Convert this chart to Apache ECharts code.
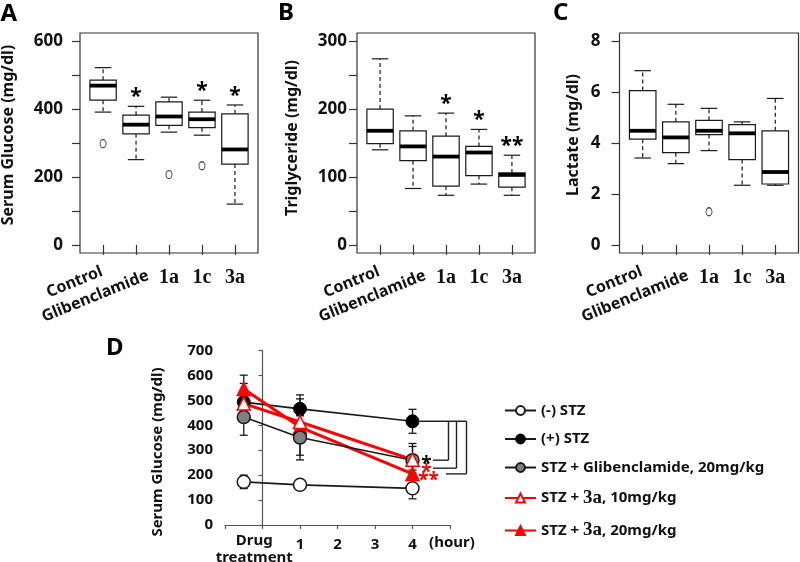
<!DOCTYPE html>
<html><head><meta charset="utf-8">
<script src="https://cdn.jsdelivr.net/npm/echarts@6/dist/echarts.min.js"></script>
<style>html,body{margin:0;padding:0;background:#fff}#c{width:800px;height:562px}</style>
</head><body><div id="c"></div>
<script>
// ---------- DATA ----------
const boxCategories = ['Control', 'Glibenclamide', '1a', '1c', '3a'];
// each box: [lower whisker, Q1, median, Q3, upper whisker]
const glucoseBox = [[391, 426, 469, 485, 522], [251, 327, 354, 382, 408], [332, 352, 378, 421, 435], [323, 345, 370, 391, 426], [120, 238, 281, 386, 412]];
const glucoseOutliers = [['Control', 298], ['1a', 207], ['1c', 233]];
const glucoseStars = ['', '*', '', '*', '*'];
const glucoseTicks = [0, 100, 200, 300, 400, 500, 600];
const glucoseTickLabels = [0, 200, 400, 600];

const tgBox = [[140, 149, 168, 200, 274], [83, 124, 145, 168, 190], [73, 86.5, 130, 160, 194], [89.5, 102, 136, 145, 170], [73, 85, 103, 106, 132]];
const tgOutliers = [];
const tgStars = ['', '', '*', '*', '**'];
const tgTicks = [0, 50, 100, 150, 200, 250, 300];
const tgTickLabels = [0, 100, 200, 300];

const lacBox = [[3.41, 4.15, 4.48, 6.06, 6.84], [3.19, 3.62, 4.22, 4.83, 5.52], [3.70, 4.33, 4.48, 4.89, 5.36], [2.34, 3.35, 4.38, 4.72, 4.83], [2.34, 2.39, 2.86, 4.48, 5.75]];
const lacOutliers = [['1a', 1.30]];
const lacStars = ['', '', '', '', ''];
const lacTicks = [0, 2, 4, 6, 8];
const lacTickLabels = [0, 2, 4, 6, 8];

const timeX = [-0.5, 1, 4];
const timeTickLabelValues = [1, 2, 3, 4];
const drugLabel = 'Drug\ntreatment';
const seriesNames = ['(-) STZ', '(+) STZ', 'STZ + Glibenclamide, 20mg/kg', 'STZ + 3a, 10mg/kg', 'STZ + 3a, 20mg/kg'];
const negSTZ = [173, 161, 147];      const negSTZErr = [27, 10, 42];
const posSTZ = [493, 466, 416];      const posSTZErr = [75, 56, 48];
const glib = [433, 351, 260];        const glibErr = [73, 90, 67];
const stz3a10 = [487, 413, 262];     const stz3a10Err = [25, 25, 53];
const stz3a20 = [546, 393, 205];     const stz3a20Err = [55, 113, 15];

// ---------- STYLE ----------
const SANS = '"Noto Sans", "DejaVu Sans", sans-serif';
const SERIF = '"Liberation Serif", serif';
const INK = '#1a1a1a';
const RED = '#ff0000';

function padRange(lo, hi) { const p = (hi - lo) * 0.04; return [lo - p, hi + p]; }

const panels = [
  { box: glucoseBox, out: glucoseOutliers, stars: glucoseStars, range: [0, 600], ticks: glucoseTicks, labels: glucoseTickLabels, left: 80, width: 178, margin: 17 },
  { box: tgBox, out: tgOutliers, stars: tgStars, range: [0, 300], ticks: tgTicks, labels: tgTickLabels, left: 357, width: 178, margin: 10 },
  { box: lacBox, out: lacOutliers, stars: lacStars, range: [0, 8], ticks: lacTicks, labels: lacTickLabels, left: 619.5, width: 179, margin: 19 }
];

function makeBoxRender(stars) {
  return function (params, api) {
    const x = api.value(0);
    const v = [1, 2, 3, 4, 5].map(k => api.value(k));
    const p = v.map(val => api.coord([x, val]));
    const cx = p[0][0];
    const bw = api.size([0.8, 0])[0];
    const cw = api.size([0.5, 0])[0];
    const dashed = { stroke: INK, lineWidth: 1.2, lineDash: [4, 3] };
    const solid = { stroke: INK, lineWidth: 1.2 };
    const children = [
      { type: 'line', shape: { x1: cx, y1: p[1][1], x2: cx, y2: p[0][1] }, style: dashed },
      { type: 'line', shape: { x1: cx, y1: p[3][1], x2: cx, y2: p[4][1] }, style: dashed },
      { type: 'line', shape: { x1: cx - cw / 2, y1: p[0][1], x2: cx + cw / 2, y2: p[0][1] }, style: solid },
      { type: 'line', shape: { x1: cx - cw / 2, y1: p[4][1], x2: cx + cw / 2, y2: p[4][1] }, style: solid },
      { type: 'rect', shape: { x: cx - bw / 2, y: p[3][1], width: bw, height: p[1][1] - p[3][1] }, style: { fill: '#fff', stroke: INK, lineWidth: 1.2 } },
      { type: 'line', shape: { x1: cx - bw / 2, y1: p[2][1], x2: cx + bw / 2, y2: p[2][1] }, style: { stroke: '#000', lineWidth: 3.8 } }
    ];
    const s = stars[params.dataIndex];
    if (s) {
      children.push({ type: 'text', x: cx, y: p[4][1] - 9, style: { text: s, font: 'bold 21px ' + SANS, fill: '#000', align: 'center', verticalAlign: 'middle' } });
    }
    return { type: 'group', children };
  };
}

function errRender(params, api) {
  const x = api.value(0), m = api.value(1), e = api.value(2);
  const top = api.coord([x, m + e]), bot = api.coord([x, m - e]);
  const cx = top[0], hw = 4;
  const st = { stroke: INK, lineWidth: 1.3 };
  return {
    type: 'group', children: [
      { type: 'line', shape: { x1: cx, y1: top[1], x2: cx, y2: bot[1] }, style: st },
      { type: 'line', shape: { x1: cx - hw, y1: top[1], x2: cx + hw, y2: top[1] }, style: st },
      { type: 'line', shape: { x1: cx - hw, y1: bot[1], x2: cx + hw, y2: bot[1] }, style: st }
    ]
  };
}

const grids = [], xAxes = [], yAxes = [], series = [];
panels.forEach((p, i) => {
  grids.push({ left: p.left, top: 33, width: p.width, height: 220, show: true, borderColor: '#333', borderWidth: 1.2 });
  xAxes.push({
    type: 'value', gridIndex: i, min: 0.3, max: 5.7,
    splitLine: { show: false }, axisLine: { show: false },
    axisTick: { show: true, customValues: [1, 2, 3, 4, 5], length: 10, lineStyle: { color: '#333', width: 1.2 } },
    axisLabel: { customValues: [3, 4, 5], formatter: v => boxCategories[v - 1], fontFamily: SERIF, fontWeight: 'bold', fontSize: 20, color: '#111', margin: 15 }
  });
  const r = padRange(p.range[0], p.range[1]);
  yAxes.push({
    type: 'value', gridIndex: i, min: r[0], max: r[1],
    splitLine: { show: false }, axisLine: { show: false },
    axisTick: { show: true, customValues: p.ticks, length: 8, lineStyle: { color: '#333', width: 1.2 } },
    axisLabel: { customValues: p.labels, fontFamily: SANS, fontWeight: 'bold', fontSize: 17, color: '#111', margin: p.margin }
  });
  series.push({
    type: 'custom', xAxisIndex: i, yAxisIndex: i, silent: true,
    renderItem: makeBoxRender(p.stars),
    encode: { x: 0, y: [1, 2, 3, 4, 5] },
    data: p.box.map((b, k) => [k + 1].concat(b))
  });
  series.push({
    type: 'scatter', xAxisIndex: i, yAxisIndex: i, silent: true,
    symbol: 'circle', symbolSize: [6, 8],
    itemStyle: { color: '#fff', borderColor: INK, borderWidth: 1.1 },
    data: p.out.map(o => [boxCategories.indexOf(o[0]) + 1, o[1]])
  });
});

// Panel D
grids.push({ left: 225, top: 350.5, width: 225, height: 174.5 });
xAxes.push({
  type: 'value', gridIndex: 3, min: -1, max: 5, interval: 1, offset: 2,
  splitLine: { show: false },
  axisLine: { show: true, lineStyle: { color: '#555', width: 1.2 } },
  axisTick: { show: true, customValues: [-1, 0, 1, 2, 3, 4, 5], length: 4, lineStyle: { color: '#555', width: 1.2 } },
  axisLabel: { customValues: timeTickLabelValues, fontFamily: SANS, fontWeight: 'bold', fontSize: 15, color: '#111', margin: 10 },
  name: '(hour)', nameLocation: 'end', nameGap: 2,
  nameTextStyle: { fontFamily: SANS, fontWeight: 'bold', fontSize: 15, color: '#111', align: 'center', verticalAlign: 'top', padding: [10, 0, 0, 0] }
});
yAxes.push({
  type: 'value', gridIndex: 3, min: 0, max: 700, interval: 100, offset: 2,
  splitLine: { show: false },
  axisLine: { show: true, lineStyle: { color: '#555', width: 1.2 } },
  axisTick: { show: true, length: 4, lineStyle: { color: '#555', width: 1.2 } },
  axisLabel: { fontFamily: SANS, fontWeight: 'bold', fontSize: 15, color: '#111', margin: 10 }
});

const dSets = [
  { name: seriesNames[0], v: negSTZ, e: negSTZErr },
  { name: seriesNames[1], v: posSTZ, e: posSTZErr },
  { name: seriesNames[2], v: glib, e: glibErr },
  { name: seriesNames[3], v: stz3a10, e: stz3a10Err },
  { name: seriesNames[4], v: stz3a20, e: stz3a20Err }
];
const errData = [];
dSets.forEach(s => s.v.forEach((m, k) => errData.push([timeX[k], m, s.e[k]])));
series.push({ type: 'custom', xAxisIndex: 3, yAxisIndex: 3, silent: true, renderItem: errRender, encode: { x: 0, y: 1 }, data: errData, z: 1 });

const pts = arr => arr.map((m, k) => [timeX[k], m]);
const dStyles = {
  '(-) STZ': { symbol: 'circle', symbolSize: 13, lineStyle: { color: INK, width: 1.6 }, itemStyle: { color: '#fff', borderColor: INK, borderWidth: 1.5 } },
  '(+) STZ': { symbol: 'circle', symbolSize: 13, lineStyle: { color: INK, width: 1.6 }, itemStyle: { color: '#000', borderColor: '#000', borderWidth: 1 } },
  'STZ + Glibenclamide, 20mg/kg': { symbol: 'circle', symbolSize: 13, lineStyle: { color: INK, width: 1.6 }, itemStyle: { color: '#808080', borderColor: INK, borderWidth: 1.5 } },
  'STZ + 3a, 10mg/kg': { symbol: 'triangle', symbolSize: 13, lineStyle: { color: RED, width: 3 }, itemStyle: { color: '#fff', borderColor: RED, borderWidth: 1.5 } },
  'STZ + 3a, 20mg/kg': { symbol: 'triangle', symbolSize: 14, lineStyle: { color: RED, width: 3 }, itemStyle: { color: RED, borderColor: RED, borderWidth: 1 } }
};
// draw order: (-) STZ, (+) STZ, 3a 20, Gliben, 3a 10
[0, 1, 4, 2, 3].forEach(idx => {
  const s = dSets[idx];
  series.push(Object.assign({ name: s.name, type: 'line', xAxisIndex: 3, yAxisIndex: 3, data: pts(s.v), showSymbol: true, animation: false }, dStyles[s.name]));
});

const option = {
  animation: false,
  grid: grids, xAxis: xAxes, yAxis: yAxes, series: series,
  legend: {
    orient: 'vertical', left: 499, top: 398, itemWidth: 31, itemHeight: 11, itemGap: 13.5,
    selectedMode: false, data: seriesNames,
    formatter: name => name.replace('3a', '{s|3a}'),
    lineStyle: { width: 2 },
    textStyle: { fontFamily: SANS, fontWeight: 'bold', fontSize: 15, color: '#111', lineHeight: 15,
      rich: { s: { fontFamily: SERIF, fontWeight: 'bold', fontSize: 19, lineHeight: 15 } } }
  }
};

const chart = echarts.init(document.getElementById('c'));
chart.setOption(option);

// ---------- text annotations positioned from the axes ----------
const g = [];
const letters = [['A', 0.5, 2], ['B', 278, 1], ['C', 553, 1], ['D', 106, 336]];
letters.forEach(l => g.push({ type: 'text', x: l[1], y: l[2], style: { text: l[0], font: 'bold 24px ' + SANS, fill: '#000' } }));
const yTitles = [['Serum Glucose (mg/dl)', 8.5, 135, 16], ['Triglyceride (mg/dl)', 292.5, 138, 16], ['Lactate (mg/dl)', 573, 135, 16], ['Serum Glucose (mg/dl)', 158, 452, 15]];
yTitles.forEach(t => g.push({ type: 'text', x: t[1], y: t[2], rotation: Math.PI / 2, style: { text: t[0], font: 'bold ' + t[3] + 'px ' + SANS, fill: '#111', align: 'center', verticalAlign: 'middle' } }));

panels.forEach((p, i) => {
  const yMin = padRange(p.range[0], p.range[1])[0];
  const c = chart.convertToPixel({ gridIndex: i }, [1, yMin]);
  const gl = chart.convertToPixel({ gridIndex: i }, [2, yMin]);
  g.push({ type: 'text', x: c[0] - 1, y: c[1] + 18, rotation: 22 * Math.PI / 180, style: { text: boxCategories[0], font: 'bold 16px ' + SANS, fill: '#111', align: 'right', verticalAlign: 'middle' } });
  g.push({ type: 'text', x: gl[0] + 12, y: gl[1] + 22, rotation: 22 * Math.PI / 180, style: { text: boxCategories[1], font: 'bold 16px ' + SANS, fill: '#111', align: 'right', verticalAlign: 'middle' } });
});

// Drug treatment label
const pd = chart.convertToPixel({ gridIndex: 3 }, [timeX[0], 0]);
g.push({ type: 'text', x: pd[0] + 10.5, y: 532, style: { text: drugLabel, font: 'bold 15px ' + SANS, fill: '#111', align: 'center', verticalAlign: 'top', lineHeight: 17 } });

// significance brackets in panel D
const pB = chart.convertToPixel({ gridIndex: 3 }, [timeX[2], posSTZ[2]]);
const y1 = chart.convertToPixel({ gridIndex: 3 }, [timeX[2], glib[2]])[1];
const y2 = y1 + 8;
const y3 = chart.convertToPixel({ gridIndex: 3 }, [timeX[2], stz3a20[2]])[1];
const xP = pB[0], yB = pB[1];
const bs = { stroke: '#222', lineWidth: 1.4 };
const seg = (x1, yy1, x2, yy2) => g.push({ type: 'line', shape: { x1, y1: yy1, x2, y2: yy2 }, style: bs });
seg(xP + 7, yB, xP + 54, yB);
seg(xP + 36, yB, xP + 36, y1);
seg(xP + 44, yB, xP + 44, y2);
seg(xP + 54, yB, xP + 54, y3);
seg(xP + 20.5, y1, xP + 36, y1);
seg(xP + 20.5, y2, xP + 44, y2);
seg(xP + 33.5, y3, xP + 54, y3);
g.push({ type: 'text', x: xP + 14, y: y1 + 4, style: { text: '*', font: 'bold 19px ' + SANS, fill: '#000', align: 'center', verticalAlign: 'middle' } });
g.push({ type: 'text', x: xP + 14, y: y2 + 4, style: { text: '*', font: 'bold 19px ' + SANS, fill: RED, align: 'center', verticalAlign: 'middle' } });
g.push({ type: 'text', x: xP + 16, y: y3 + 7, style: { text: '**', font: 'bold 19px ' + SANS, fill: RED, align: 'center', verticalAlign: 'middle' } });

chart.setOption({ graphic: g });
</script>
</body></html>
